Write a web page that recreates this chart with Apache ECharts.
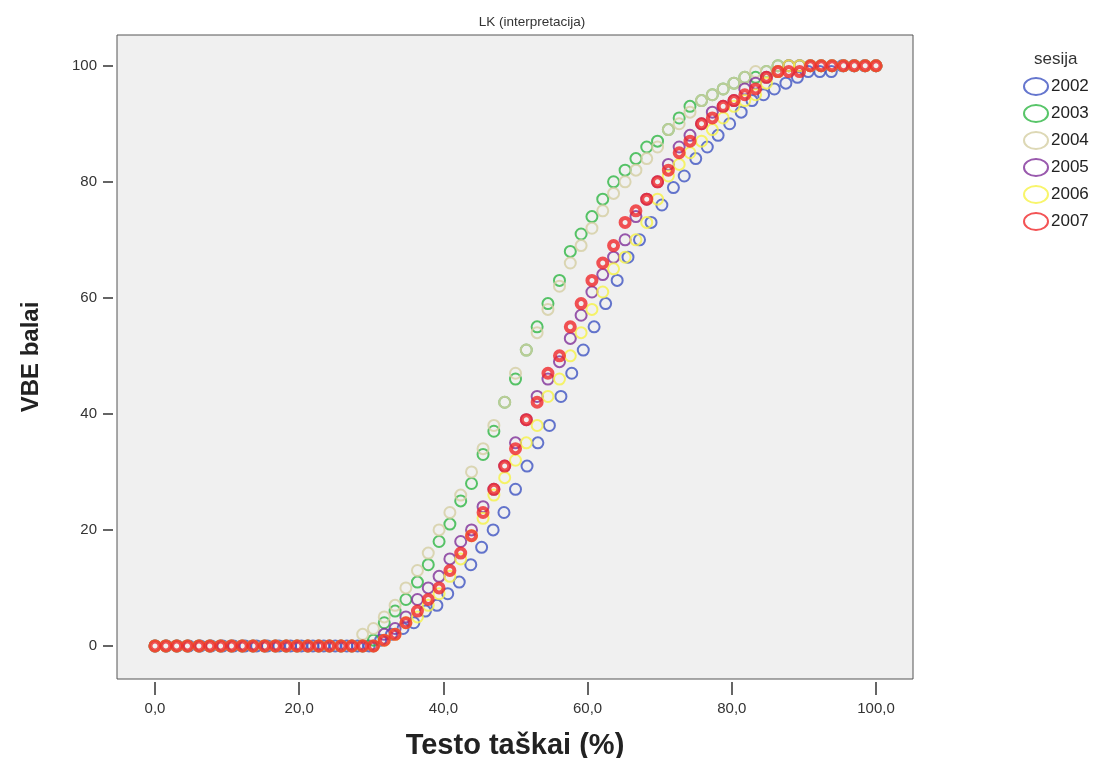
<!DOCTYPE html>
<html>
<head>
<meta charset="utf-8">
<script src="https://cdn.jsdelivr.net/npm/echarts@6/dist/echarts.min.js"></script>
<style>
html,body{margin:0;padding:0;background:#ffffff;}
#chart{width:1103px;height:758px;}
</style>
</head>
<body>
<div id="chart"></div>
<script>
// x positions (test score %) — sessions 2003-2007 share one scale, 2002 another
const xScoreA = [0,1.5,3.0,4.5,6.1,7.6,9.1,10.6,12.1,13.6,15.2,16.7,18.2,19.7,21.2,22.7,24.2,25.8,27.3,28.8,
  30.3,31.8,33.3,34.8,36.4,37.9,39.4,40.9,42.4,43.9,45.5,47.0,48.5,50.0,51.5,53.0,54.5,56.1,57.6,59.1,
  60.6,62.1,63.6,65.2,66.7,68.2,69.7,71.2,72.7,74.2,75.8,77.3,78.8,80.3,81.8,83.3,84.8,86.4,87.9,89.4,
  90.9,92.4,93.9,95.5,97.0,98.5,100];
const xScore2002 = [0,1.6,3.1,4.7,6.3,7.8,9.4,10.9,12.5,14.1,15.6,17.2,18.8,20.3,21.9,23.4,25.0,26.6,28.1,29.7,
  31.3,32.8,34.4,35.9,37.5,39.1,40.6,42.2,43.8,45.3,46.9,48.4,50.0,51.6,53.1,54.7,56.3,57.8,59.4,60.9,
  62.5,64.1,65.6,67.2,68.8,70.3,71.9,73.4,75.0,76.6,78.1,79.7,81.3,82.8,84.4,85.9,87.5,89.1,90.6,92.2,
  93.8,95.3,96.9,98.4,100];

const vbe2002 = [0,0,0,0,0,0,0,0,0,0,0,0,0,0,0,0,0,0,0,0,
  1,2,3,4,6,7,9,11,14,17,20,23,27,31,35,38,43,47,51,55,
  59,63,67,70,73,76,79,81,84,86,88,90,92,94,95,96,97,98,99,99,
  99,100,100,100,100];
const vbe2003 = [0,0,0,0,0,0,0,0,0,0,0,0,0,0,0,0,0,0,0,0,
  1,4,6,8,11,14,18,21,25,28,33,37,42,46,51,55,59,63,68,71,
  74,77,80,82,84,86,87,89,91,93,94,95,96,97,98,98,99,100,100,100,
  100,100,100,100,100,100,100];
const vbe2004 = [0,0,0,0,0,0,0,0,0,0,0,0,0,0,0,0,0,0,0,2,
  3,5,7,10,13,16,20,23,26,30,34,38,42,47,51,54,58,62,66,69,
  72,75,78,80,82,84,86,89,90,92,94,95,96,97,98,99,99,100,100,100,
  100,100,100,100,100,100,100];
const vbe2005 = [0,0,0,0,0,0,0,0,0,0,0,0,0,0,0,0,0,0,0,0,
  0,2,3,5,8,10,12,15,18,20,24,27,31,35,39,43,46,49,53,57,
  61,64,67,70,74,77,80,83,86,88,90,92,93,94,96,97,98,99,100,100,
  100,100,100,100,100,100,100];
const vbe2006 = [0,0,0,0,0,0,0,0,0,0,0,0,0,0,0,0,0,0,0,0,
  0,1,2,4,5,7,9,12,15,19,22,26,29,32,35,38,43,46,50,54,
  58,61,65,67,70,73,77,81,83,85,87,89,91,93,94,95,97,99,100,100,
  100,100,100,100,100,100,100];
const vbe2007 = [0,0,0,0,0,0,0,0,0,0,0,0,0,0,0,0,0,0,0,0,
  0,1,2,4,6,8,10,13,16,19,23,27,31,34,39,42,47,50,55,59,
  63,66,69,73,75,77,80,82,85,87,90,91,93,94,95,96,98,99,99,99,
  100,100,100,100,100,100,100];

const sessions = ['2002','2003','2004','2005','2006','2007'];
const xTicks = [0,20,40,60,80,100];
const xTickLabels = ['0,0','20,0','40,0','60,0','80,0','100,0'];
const yTicks = [0,20,40,60,80,100];
const yTickLabels = ['0','20','40','60','80','100'];

const colors = ['#3f54c2','#2eb743','#d4cea2','#7f2f98','#f6f246','#f0282a'];
const xsList = [xScore2002, xScoreA, xScoreA, xScoreA, xScoreA, xScoreA];
const ysList = [vbe2002, vbe2003, vbe2004, vbe2005, vbe2006, vbe2007];

const chart = echarts.init(document.getElementById('chart'), null, {renderer:'canvas'});
const FONT = '"Liberation Sans", Arial, sans-serif';
const ellipse = 'path://M0,8.5A12,8.5,0,1,1,24,8.5A12,8.5,0,1,1,0,8.5Z';

const series = sessions.map((name, i) => ({
  name: name,
  type: 'scatter',
  symbol: 'circle',
  symbolSize: i === 5 ? 9 : 11,
  data: xsList[i].map((x, j) => [x, ysList[i][j]]),
  itemStyle: {
    color: 'rgba(0,0,0,0)',
    borderColor: colors[i],
    borderWidth: i === 5 ? 4 : 2
  },
  emphasis: {disabled: true},
  z: 2 + i
}));

chart.setOption({
  animation: false,
  backgroundColor: '#ffffff',
  title: {
    text: 'LK (interpretacija)',
    left: 527, top: 10, textAlign: 'center',
    textStyle: {fontFamily: FONT, fontSize: 13.5, fontWeight: 'normal', color: '#333'}
  },
  legend: {
    orient: 'vertical',
    left: 1018, top: 72,
    itemWidth: 24, itemHeight: 17, itemGap: 8,
    icon: ellipse,
    data: sessions,
    textStyle: {fontFamily: FONT, fontSize: 17, color: '#222', padding: [0,0,0,-2]}
  },
  graphic: [{
    type: 'text', left: 1034, top: 51,
    style: {text: 'sesija', fontFamily: FONT, fontSize: 17, fill: '#333'}
  }],
  grid: {
    left: 117, right: 190, top: 35, bottom: 79,
    outerBoundsMode: 'none',
    containLabel: false,
    show: true, backgroundColor: '#f0f0f0', borderColor: '#555', borderWidth: 1
  },
  xAxis: {
    type: 'value', min: -5.27, max: 105.13,
    name: 'Testo taškai (%)', nameLocation: 'middle', nameGap: 49,
    nameTextStyle: {fontFamily: FONT, fontSize: 29, fontWeight: 'bold', color: '#222'},
    splitLine: {show: false},
    axisLine: {show: false, onZero: false},
    offset: 3,
    axisTick: {show: true, inside: false, length: 13, lineStyle: {color: '#333', width: 1.5}, customValues: xTicks},
    axisLabel: {
      customValues: xTicks, margin: 19,
      fontFamily: FONT, fontSize: 15, color: '#333',
      formatter: v => xTickLabels[xTicks.indexOf(v)]
    }
  },
  yAxis: {
    type: 'value', min: -5.7, max: 105.3,
    name: 'VBE balai', nameLocation: 'middle', nameGap: 70, nameRotate: 90,
    nameTextStyle: {fontFamily: FONT, fontSize: 24, fontWeight: 'bold', color: '#222'},
    splitLine: {show: false},
    axisLine: {show: false, onZero: false},
    offset: 4,
    axisTick: {show: true, inside: false, length: 10, lineStyle: {color: '#333', width: 1.5}, customValues: yTicks},
    axisLabel: {
      customValues: yTicks, margin: 16,
      fontFamily: FONT, fontSize: 15, color: '#333',
      formatter: v => yTickLabels[yTicks.indexOf(v)]
    }
  },
  series: series
});
</script>
</body>
</html>
